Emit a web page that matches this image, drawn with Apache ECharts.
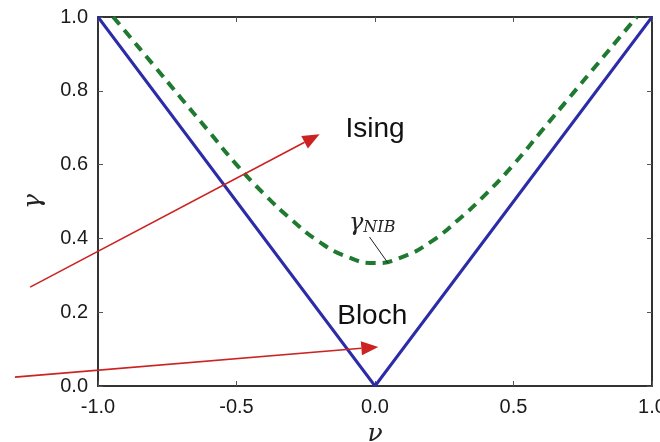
<!DOCTYPE html>
<html><head><meta charset="utf-8">
<script src="https://cdn.jsdelivr.net/npm/echarts@6/dist/echarts.min.js"></script>
<style>html,body{margin:0;padding:0;background:#fff}#c{width:660px;height:442px}</style>
</head><body><div id="c"></div>
<script>
const xTicks = [-1.0, -0.5, 0.0, 0.5, 1.0];
const yTicks = [0.0, 0.2, 0.4, 0.6, 0.8, 1.0];
const blochNu = [-1.0, 0.0, 1.0];
const blochGamma = [1.0, 0.0, 1.0];
const nibNu = [-0.945, -0.9, -0.8, -0.7, -0.6, -0.5, -0.4, -0.3, -0.2, -0.1, 0.0, 0.1, 0.2, 0.3, 0.4, 0.5, 0.6, 0.7, 0.8, 0.9, 0.945];
const nibGamma = [1.0, 0.96, 0.87, 0.78, 0.69, 0.60, 0.52, 0.45, 0.39, 0.35, 0.333, 0.35, 0.39, 0.45, 0.52, 0.60, 0.69, 0.78, 0.87, 0.96, 1.0];
const labels = [
  {text: 'Ising', nu: 0.0, g: 0.695},
  {text: 'Bloch', nu: -0.01, g: 0.19}
];
const arrows = [
  {from: [-1.245, 0.268], to: [-0.2, 0.682]},
  {from: [-1.30, 0.024], to: [0.012, 0.106]}
];

const chart = echarts.init(document.getElementById('c'));
function axisCommon() {
  return {
    axisLine: {show: true, onZero: false, lineStyle: {color: '#333', width: 2}},
    axisTick: {show: true, inside: true, length: 5, lineStyle: {color: '#555', width: 1}},
    splitLine: {show: false}
  };
}
const fmt = v => v.toFixed(1);
chart.setOption({
  animation: false,
  backgroundColor: '#fff',
  grid: {left: 98, right: 8, top: 17, bottom: 56, containLabel: false, outerBoundsMode: 'none'},
  xAxis: [
    Object.assign({type: 'value', min: -1, max: 1, interval: 0.5, position: 'bottom',
      axisLabel: {formatter: fmt, fontFamily: 'Liberation Sans', fontSize: 20, color: '#1a1a1a', margin: 11, hideOverlap: false},
      name: 'ν', nameLocation: 'middle', nameGap: 34,
      nameTextStyle: {fontFamily: 'DejaVu Serif', fontStyle: 'italic', fontSize: 25, color: '#222'}}, axisCommon()),
    Object.assign({type: 'value', min: -1, max: 1, interval: 0.5, position: 'top', axisLabel: {show: false}}, axisCommon())
  ],
  yAxis: [
    Object.assign({type: 'value', min: 0, max: 1, interval: 0.2, position: 'left',
      axisLabel: {formatter: fmt, fontFamily: 'Liberation Sans', fontSize: 20, color: '#1a1a1a', margin: 10, hideOverlap: false},
      name: 'γ', nameLocation: 'middle', nameGap: 52, nameRotate: 90,
      nameTextStyle: {fontFamily: 'DejaVu Serif', fontStyle: 'italic', fontSize: 25, color: '#222'}}, axisCommon()),
    Object.assign({type: 'value', min: 0, max: 1, interval: 0.2, position: 'right', axisLabel: {show: false}}, axisCommon())
  ],
  series: [
    {type: 'line', data: nibNu.map((v, i) => [v, nibGamma[i]]), smooth: true, showSymbol: false,
      lineStyle: {color: '#1e7a30', width: 4, type: [10, 7]}, z: 3},
    {type: 'line', data: blochNu.map((v, i) => [v, blochGamma[i]]), showSymbol: false,
      lineStyle: {color: '#2c2ca8', width: 3}, z: 4}
  ]
});

function px(p) { return chart.convertToPixel({xAxisIndex: 0, yAxisIndex: 0}, p); }
const g = [];
labels.forEach(l => {
  const p = px([l.nu, l.g]);
  g.push({type: 'text', x: p[0], y: p[1], z: 10,
    style: {text: l.text, font: '28px "Liberation Sans"', fill: '#111', align: 'center', verticalAlign: 'middle'}});
});
const nl = px([-0.01, 0.44]);
g.push({type: 'text', x: nl[0], y: nl[1], z: 10,
  style: {text: '{g|γ}{s|NIB}', align: 'center', verticalAlign: 'middle',
    rich: {g: {font: 'italic 24px "DejaVu Serif"', fill: '#222'},
           s: {font: 'italic 16px "DejaVu Serif"', fill: '#222', padding: [9, 0, 0, 0]}}}});
const a1 = px([-0.02, 0.404]), a2 = px([0.047, 0.333]);
g.push({type: 'line', z: 10, shape: {x1: a1[0], y1: a1[1], x2: a2[0], y2: a2[1]}, style: {stroke: '#222', lineWidth: 1}});
arrows.forEach(a => {
  const s = px(a.from), t = px(a.to);
  const ang = Math.atan2(t[1] - s[1], t[0] - s[0]);
  const L = 17, W = 7;
  const bx = t[0] - L * Math.cos(ang), by = t[1] - L * Math.sin(ang);
  g.push({type: 'line', z: 11, shape: {x1: s[0], y1: s[1], x2: bx, y2: by}, style: {stroke: '#cc2222', lineWidth: 1.6}});
  g.push({type: 'polygon', z: 11, shape: {points: [
    [t[0], t[1]],
    [bx - W * Math.sin(ang), by + W * Math.cos(ang)],
    [bx + W * Math.sin(ang), by - W * Math.cos(ang)]
  ]}, style: {fill: '#cc2222'}});
});
chart.setOption({graphic: g});
</script>
</body></html>
